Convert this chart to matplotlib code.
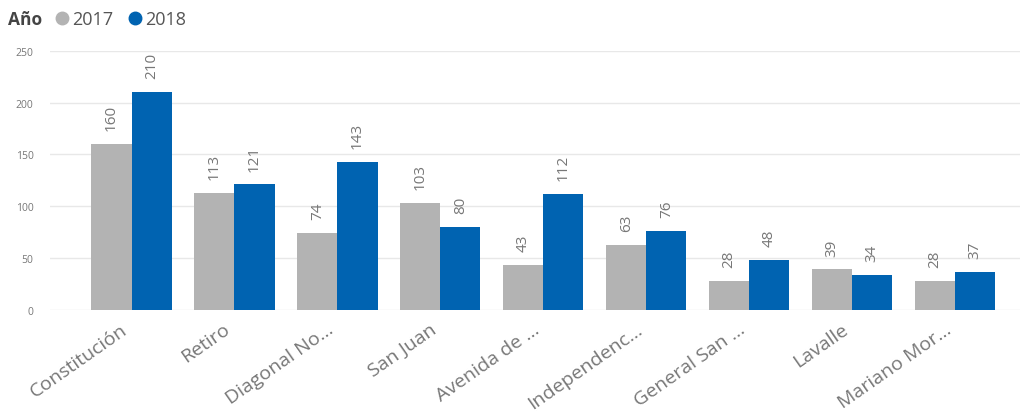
import numpy as np
import matplotlib.pyplot as plt
import matplotlib.transforms as mtransforms
from matplotlib.lines import Line2D

# Stations and yearly counts
stations = ["Constitución", "Retiro", "Diagonal No...", "San Juan", "Avenida de ...",
            "Independenc...", "General San ...", "Lavalle", "Mariano Mor..."]
years = ["2017", "2018"]
counts_2017 = [160, 113, 74, 103, 43, 63, 28, 39, 28]
counts_2018 = [210, 121, 143, 80, 112, 76, 48, 34, 37]
yticks = [0, 50, 100, 150, 200, 250]

gray = "#B3B3B3"
blue = "#0063B1"
text_col = "#777777"

plt.rcParams['font.family'] = ['Open Sans', 'DejaVu Sans']

fig = plt.figure(figsize=(10.24, 4.14), dpi=100)
ax = fig.add_axes([0.049, 0.249, 0.947, 0.626])

x = np.arange(len(stations))
w = 0.39
b1 = ax.bar(x - w / 2, counts_2017, w, color=gray, zorder=3)
b2 = ax.bar(x + w / 2, counts_2018, w, color=blue, zorder=3)

for bars, vals in ((b1, counts_2017), (b2, counts_2018)):
    for rect, v in zip(bars, vals):
        ax.annotate(str(v), (rect.get_x() + rect.get_width() / 2, v),
                    xytext=(0, 10), textcoords='offset points',
                    rotation=90, ha='center', va='bottom', fontsize=11, color=text_col)

ax.set_xlim(-0.79, len(stations) - 1 + 0.63)
ax.set_ylim(0, 250)
ax.set_yticks(yticks)
ax.set_yticklabels([str(t) for t in yticks], fontsize=7.5, color=text_col)
ax.grid(axis='y', color='#E8E8E8', linewidth=1, zorder=0)
ax.tick_params(axis='both', length=0, pad=12)

ax.set_xticks(x)
ax.set_xticklabels(stations, rotation=35, ha='right', rotation_mode='anchor',
                   fontsize=14, color=text_col)
ax.tick_params(axis='x', pad=7)
shift = mtransforms.ScaledTranslation(-8 / 72, 0, fig.dpi_scale_trans)
for lbl in ax.get_xticklabels():
    lbl.set_transform(lbl.get_transform() + shift)

for s in ax.spines.values():
    s.set_visible(False)

# Legend row at the top left
fig.text(0.008, 0.952, "Año", fontsize=12.5, fontweight='bold', color='#444444',
         va='center', ha='left')
handles = [Line2D([0], [0], marker='o', linestyle='', markersize=9,
                  markerfacecolor=c, markeredgecolor=c) for c in (gray, blue)]
fig.legend(handles, years, loc='center left', bbox_to_anchor=(0.052, 0.952),
           ncol=2, frameon=False, fontsize=13, handletextpad=0.05,
           columnspacing=0.7, borderaxespad=0, borderpad=0,
           labelcolor='#555555', handlelength=1.0)

fig.savefig("out.png", dpi=100)
